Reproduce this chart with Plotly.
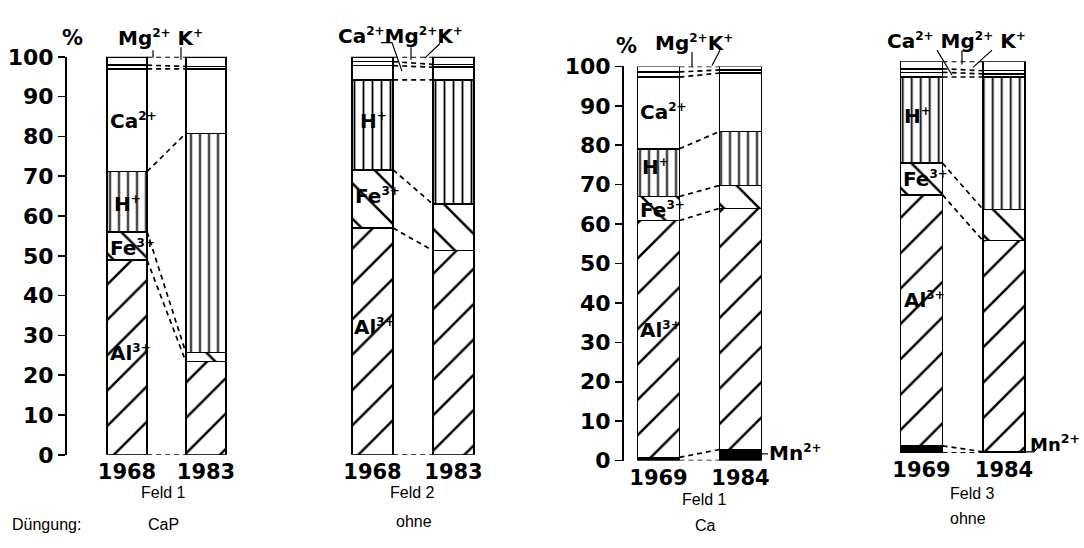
import plotly.graph_objects as go

W, H = 1084, 548

# ---------------- data (percent of exchangeable cations) ----------------
# eight bars, in order: panel1 (1968,1983), panel2 (1968,1983), panel3 (1969,1984), panel4 (1969,1984)
years = ["1968", "1983", "1968", "1983", "1969", "1984", "1969", "1984"]
fields = ["Feld 1", "Feld 2", "Feld 1", "Feld 3"]
fertilizer = ["CaP", "ohne", "Ca", "ohne"]

mn_pct = [0.0, 0.0, 0.0, 0.0, 0.8, 2.8, 1.8, 0.3]
al_pct = [48.9, 23.4, 57.0, 51.3, 60.1, 61.2, 64.1, 53.9]
fe_pct = [7.1, 2.3, 14.6, 11.7, 6.1, 5.8, 8.1, 8.0]
h_pct = [15.2, 55.1, 22.6, 31.2, 12.1, 13.7, 22.0, 33.8]
ca_pct = [25.8, 16.2, 3.6, 3.2, 18.2, 14.8, 1.2, 0.8]
mg_pct = [0.9, 0.6, 1.0, 0.7, 1.3, 0.8, 0.9, 0.8]
k_pct = [2.1, 2.4, 1.2, 1.9, 1.4, 0.9, 1.9, 2.4]

y_ticks = [0, 10, 20, 30, 40, 50, 60, 70, 80, 90, 100]

# ---------------- styles / layout geometry ----------------
def hatch(shape, size, solidity):
    return dict(shape=shape, fgcolor="#000000", fgopacity=1, size=size,
                solidity=solidity, fillmode="overlay")

series = [
    ("Mn", mn_pct, dict(color="black")),
    ("Al", al_pct, dict(color="white", pattern=hatch("/", 25, 0.1))),
    ("Fe", fe_pct, dict(color="white", pattern=hatch("\\", 25, 0.1))),
    ("H", h_pct, dict(color="white", pattern=hatch("|", 9, 0.2))),
    ("Ca", ca_pct, dict(color="white")),
    ("Mg", mg_pct, dict(color="white")),
    ("K", k_pct, dict(color="white")),
]

BAR_W = 0.51
panel_xpx = [(87.5, 245.5), (332, 494), (617.5, 781.5), (880.25, 1045.25)]
axis_names = [("x", "y"), ("x2", "y"), ("x3", "y3"), ("x4", "y4")]

def px(x):
    return x / W

def py(y):
    return 1 - y / H

BOLD = "DejaVu Sans"
REG = "Liberation Sans"

def sup(s, size=12):
    return f"<sup><span style='font-size:{size}px'>{s}</span></sup>"

fig = go.Figure()

for p in range(4):
    xa, ya = axis_names[p]
    i0, i1 = 2 * p, 2 * p + 1
    for name, vals, mk in series:
        m = dict(mk)
        m["line"] = dict(color="black", width=1.5)
        fig.add_trace(go.Bar(
            x=[0, 1], y=[vals[i0], vals[i1]], width=BAR_W,
            marker=m, xaxis=xa, yaxis=ya, name=name, showlegend=False,
            hoverinfo="skip",
        ))
    c0, c1 = 0.0, 0.0
    bounds = [(0.0, 0.0)]
    for name, vals, mk in series:
        c0 += vals[i0]
        c1 += vals[i1]
        if (round(c0, 3), round(c1, 3)) != (round(bounds[-1][0], 3), round(bounds[-1][1], 3)):
            bounds.append((c0, c1))
    for b0, b1 in bounds:
        fig.add_trace(go.Scatter(
            x=[BAR_W / 2, 1 - BAR_W / 2], y=[b0, b1], mode="lines",
            line=dict(color="black", width=1.7, dash="5px,4px"),
            xaxis=xa, yaxis=ya, showlegend=False, hoverinfo="skip",
        ))

xcommon = dict(range=[-0.5, 1.5], tickvals=[0, 1], showgrid=False, zeroline=False,
               showline=False, ticks="", ticklabelstandoff=2,
               tickfont=dict(family=BOLD, size=21, color="black", weight="bold"))
ycommon = dict(range=[0, 100], showgrid=False, zeroline=False, tickvals=y_ticks,
               showline=True, linecolor="black", linewidth=1.6, ticks="outside",
               ticklen=7, tickwidth=1.6, tickcolor="black",
               tickfont=dict(family=BOLD, size=22, color="black", weight="bold"))

lay = {}
for p in range(4):
    xa, ya = axis_names[p]
    key = "xaxis" if xa == "x" else "xaxis" + xa[1:]
    lay[key] = dict(xcommon, domain=[px(panel_xpx[p][0]), px(panel_xpx[p][1])],
                    anchor=ya, ticktext=years[2 * p:2 * p + 2])

lay["yaxis"] = dict(ycommon, domain=[py(464), py(47)], anchor="free", position=px(65))
lay["yaxis3"] = dict(ycommon, domain=[py(470), py(57)], anchor="free", position=px(622))
lay["yaxis4"] = dict(ycommon, domain=[py(462), py(51.7)], anchor="free", position=px(900), visible=False)

fig.update_layout(
    width=W, height=H, margin=dict(l=0, r=0, t=0, b=0),
    paper_bgcolor="white", plot_bgcolor="white", barmode="stack",
    bargap=0, showlegend=False, hovermode=False, **lay,
)

ann = []

def label_paper(text, x, y, size=20, family=BOLD, bold=True, xanchor="center"):
    t = f"<b>{text}</b>" if bold else text
    ann.append(dict(text=t, x=px(x), y=py(y), xref="paper", yref="paper",
                    showarrow=False, xanchor=xanchor, yanchor="middle",
                    font=dict(family=family, size=size, color="black")))

def label_data(text, p, slot, xoff, yval, size=20):
    xa, ya = axis_names[p]
    ann.append(dict(text=f"<b>{text}</b>", x=slot + xoff, y=yval, xref=xa, yref=ya,
                    showarrow=False, xanchor="left", yanchor="middle",
                    font=dict(family=BOLD, size=size, color="black")))

CA = "Ca" + sup("2+")
MG = "Mg" + sup("2+")
K = "K" + sup("+")
HP = "H" + sup("+")
FE = "Fe" + sup("3+")
AL = "Al" + sup("3+")
MN = "Mn" + sup("2+")

label_paper("%", 72, 27, size=21)
label_paper("%", 626, 36, size=21)

label_data(CA, 0, 0, -0.24, 84)
label_data(HP, 0, 0, -0.19, 63)
label_data(FE, 0, 0, -0.24, 52)
label_data(AL, 0, 0, -0.24, 25.5)

label_data(HP, 1, 0, -0.18, 84)
label_data(FE, 1, 0, -0.24, 65)
label_data(AL, 1, 0, -0.25, 32)

label_data(CA, 2, 0, -0.25, 88.5)
label_data(HP, 2, 0, -0.23, 74.5)
label_data(FE, 2, 0, -0.25, 63.5)
label_data(AL, 2, 0, -0.25, 33)

label_data(HP, 3, 0, -0.24, 86)
label_data(FE, 3, 0, -0.25, 70)
label_data(AL, 3, 0, -0.24, 39)

label_paper(MG + " " + K, 161, 27)
label_paper(CA + MG + K, 400, 25)
label_paper(MG + K, 694, 32)
label_paper(CA + " " + MG + " " + K, 956, 30)

label_paper(MN, 767, 462, xanchor="left")
label_paper("Mn<sup>2+</sup>", 1082, 452, size=18, xanchor="right")

label_paper(fields[0], 163, 503, size=16, family=REG, bold=False)
label_paper(fields[1], 412, 503, size=16, family=REG, bold=False)
label_paper(fields[2], 704, 511, size=16, family=REG, bold=False)
label_paper(fields[3], 972, 505, size=16, family=REG, bold=False)
label_paper("Düngung:", 46, 537, size=16, family=REG, bold=False)
label_paper(fertilizer[0], 163, 537, size=16, family=REG, bold=False)
label_paper(fertilizer[1], 414, 534, size=16, family=REG, bold=False)
label_paper(fertilizer[2], 705, 538, size=16, family=REG, bold=False)
label_paper(fertilizer[3], 968, 531, size=16, family=REG, bold=False)

fig.update_layout(annotations=ann)

leaders = [
    [(153, 40), (153, 48)],
    [(181, 37), (181, 50)],
    [(381, 32), (392, 32), (402, 62)],
    [(411, 37), (411, 50)],
    [(440, 33), (425, 48)],
    [(692, 42), (692, 58)],
    [(720, 40), (712, 56)],
    [(937, 40), (952, 66)],
    [(962, 40), (962, 55)],
    [(992, 40), (973, 58)],
    [(762, 463), (768, 463)],
    [(1025, 461), (1034, 461), (1038, 456)],
]
for pts in leaders:
    path = "M " + " L ".join(f"{px(x):.5f},{py(y):.5f}" for x, y in pts)
    fig.add_shape(type="path", path=path, xref="paper", yref="paper",
                  line=dict(color="black", width=1.2))

fig.write_html("out.html", config={"displayModeBar": False, "staticPlot": True},
               post_script="document.body.style.margin='0px';document.body.style.overflow='hidden';")
